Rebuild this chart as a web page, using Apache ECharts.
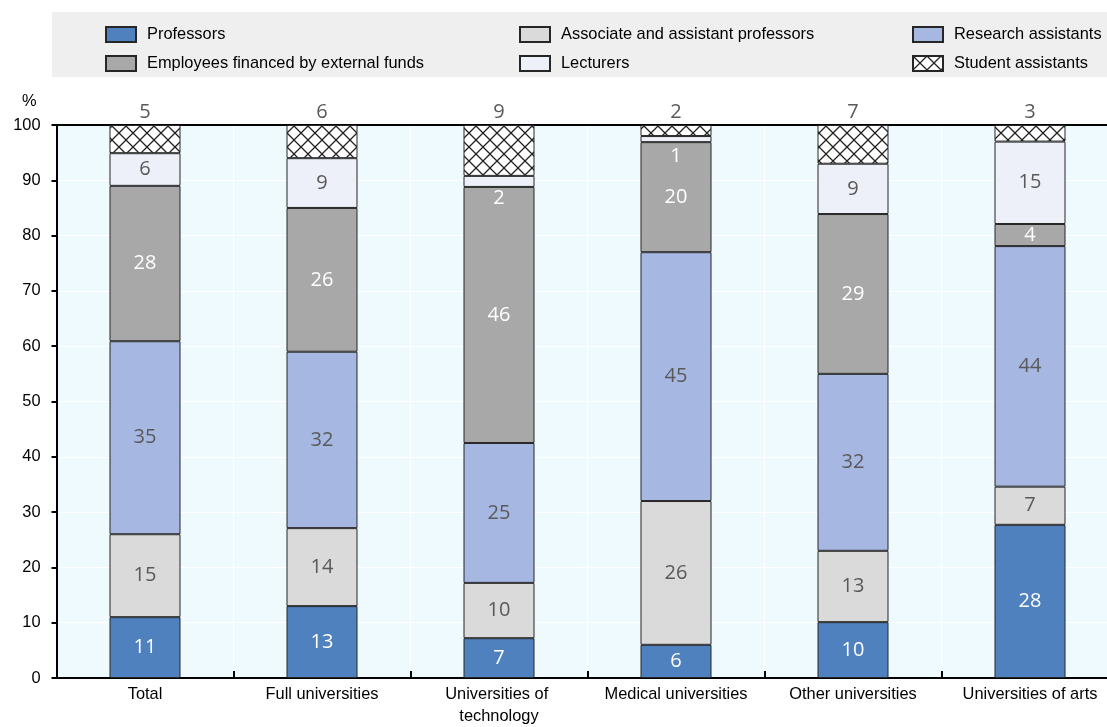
<!DOCTYPE html>
<html>
<head>
<meta charset="utf-8">
<script src="https://cdn.jsdelivr.net/npm/echarts@6/dist/echarts.min.js"></script>
<style>
html,body{margin:0;padding:0;background:#fff;}
#chart{width:1107px;height:727px;}
</style>
</head>
<body>
<div id="chart"></div>
<script>
const categories = ['Total', 'Full universities', 'Universities of technology', 'Medical universities', 'Other universities', 'Universities of arts'];
const seriesNames = ['Professors', 'Associate and assistant professors', 'Research assistants', 'Employees financed by external funds', 'Lecturers', 'Student assistants'];
const professors = [11, 13, 7.2, 6, 10.1, 27.7];
const associateAssistant = [15, 14.1, 10, 26, 12.9, 6.9];
const researchAssistants = [34.9, 31.9, 25.3, 45, 32, 43.5];
const externalFunds = [28.1, 26, 46.3, 19.9, 28.9, 4];
const lecturers = [5.9, 9, 2, 1.1, 9.1, 14.9];
const studentAssistants = [5.1, 6, 9.2, 2, 7, 3];
const yTicks = [0, 10, 20, 30, 40, 50, 60, 70, 80, 90, 100];

const FONT_AXIS = '"Liberation Sans Narrow", "Arial Narrow", "Liberation Sans", Arial, sans-serif';
const FONT_LABEL = '"Open Sans", "Noto Sans", sans-serif';
const GREY_TXT = '#595959';
const AXIS_FS = 16.4;

// crosshatch pattern for student assistants
const P = 14;
const pc = document.createElement('canvas');
pc.width = P; pc.height = P;
const ctx = pc.getContext('2d');
ctx.fillStyle = '#ffffff';
ctx.fillRect(0, 0, P, P);
ctx.strokeStyle = '#222';
ctx.lineWidth = 1.3;
ctx.beginPath();
ctx.moveTo(0, 0); ctx.lineTo(P, P);
ctx.moveTo(P, 0); ctx.lineTo(0, P);
ctx.stroke();

const colors = ['#4E81BD', '#DADADA', '#A6B7E2', '#A8A8A8', '#EDF0F8', {image: pc, repeat: 'repeat'}];
const labelColors = ['#fff', GREY_TXT, GREY_TXT, '#fff', GREY_TXT, GREY_TXT];
const values = [professors, associateAssistant, researchAssistants, externalFunds, lecturers, studentAssistants];

const series = values.map((arr, i) => {
  const data = arr.map(v => {
    if (i === 4 && v < 3) {
      return {value: v, label: {offset: [0, 17], color: '#fff'}};
    }
    return v;
  });
  return {
    name: seriesNames[i],
    type: 'bar',
    stack: 'all',
    barWidth: 71,
    data: data,
    itemStyle: {color: colors[i], borderColor: '#262626', borderWidth: 1},
    emphasis: {disabled: true},
    label: {
      show: true,
      position: i === 5 ? 'top' : 'inside',
      distance: 3,
      color: labelColors[i],
      fontFamily: FONT_LABEL,
      fontSize: 20,
      formatter: p => Math.round(p.value)
    }
  };
});

const legendText = {fontFamily: FONT_AXIS, fontSize: AXIS_FS, color: '#000', padding: [0, 0, 0, 6]};
const mkLegend = (names, left) => ({
  orient: 'vertical',
  left: left,
  top: 26,
  itemWidth: 30,
  itemHeight: 15,
  itemGap: 12,
  padding: 0,
  icon: 'rect',
  selectedMode: false,
  data: names,
  textStyle: legendText
});

const chart = echarts.init(document.getElementById('chart'), null, {renderer: 'canvas'});
chart.setOption({
  animation: false,
  graphic: [{
    type: 'rect',
    shape: {x: 52, y: 12, width: 1060, height: 65},
    style: {fill: '#EFEFEF'},
    z: -10
  }],
  legend: [
    mkLegend([seriesNames[0], seriesNames[3]], 105),
    mkLegend([seriesNames[1], seriesNames[4]], 519),
    mkLegend([seriesNames[2], seriesNames[5]], 912)
  ],
  grid: {
    left: 56.5, width: 1062, top: 125, bottom: 49,
    outerBoundsMode: 'none', containLabel: false,
    show: true, backgroundColor: '#EEFAFD', borderWidth: 0
  },
  xAxis: [{
    type: 'category',
    data: categories,
    axisLine: {lineStyle: {color: '#000', width: 2}},
    axisTick: {show: true, inside: true, length: 7, lineStyle: {color: '#000', width: 2}},
    splitLine: {show: true, lineStyle: {color: '#fff', width: 1}},
    axisLabel: {
      fontFamily: FONT_AXIS, fontSize: AXIS_FS, color: '#000', margin: 5,
      width: 150, overflow: 'break', lineHeight: 22, interval: 0
    }
  }, {
    type: 'category',
    position: 'top',
    data: categories,
    axisLine: {show: true, lineStyle: {color: '#000', width: 2}},
    axisTick: {show: false},
    axisLabel: {show: false}
  }],
  yAxis: {
    type: 'value',
    min: yTicks[0],
    max: yTicks[yTicks.length - 1],
    interval: 10,
    name: '%',
    nameLocation: 'end',
    nameGap: 16,
    nameTextStyle: {fontFamily: FONT_AXIS, fontSize: AXIS_FS, color: '#000', align: 'right', padding: [0, 20, 0, 0]},
    axisLine: {show: true, lineStyle: {color: '#000', width: 2}},
    axisTick: {show: true, length: 5, lineStyle: {color: '#000', width: 2}},
    splitLine: {show: true, lineStyle: {color: '#fff', width: 1}},
    axisLabel: {fontFamily: FONT_AXIS, fontSize: AXIS_FS, color: '#000', margin: 16}
  },
  series: series
});
</script>
</body>
</html>
